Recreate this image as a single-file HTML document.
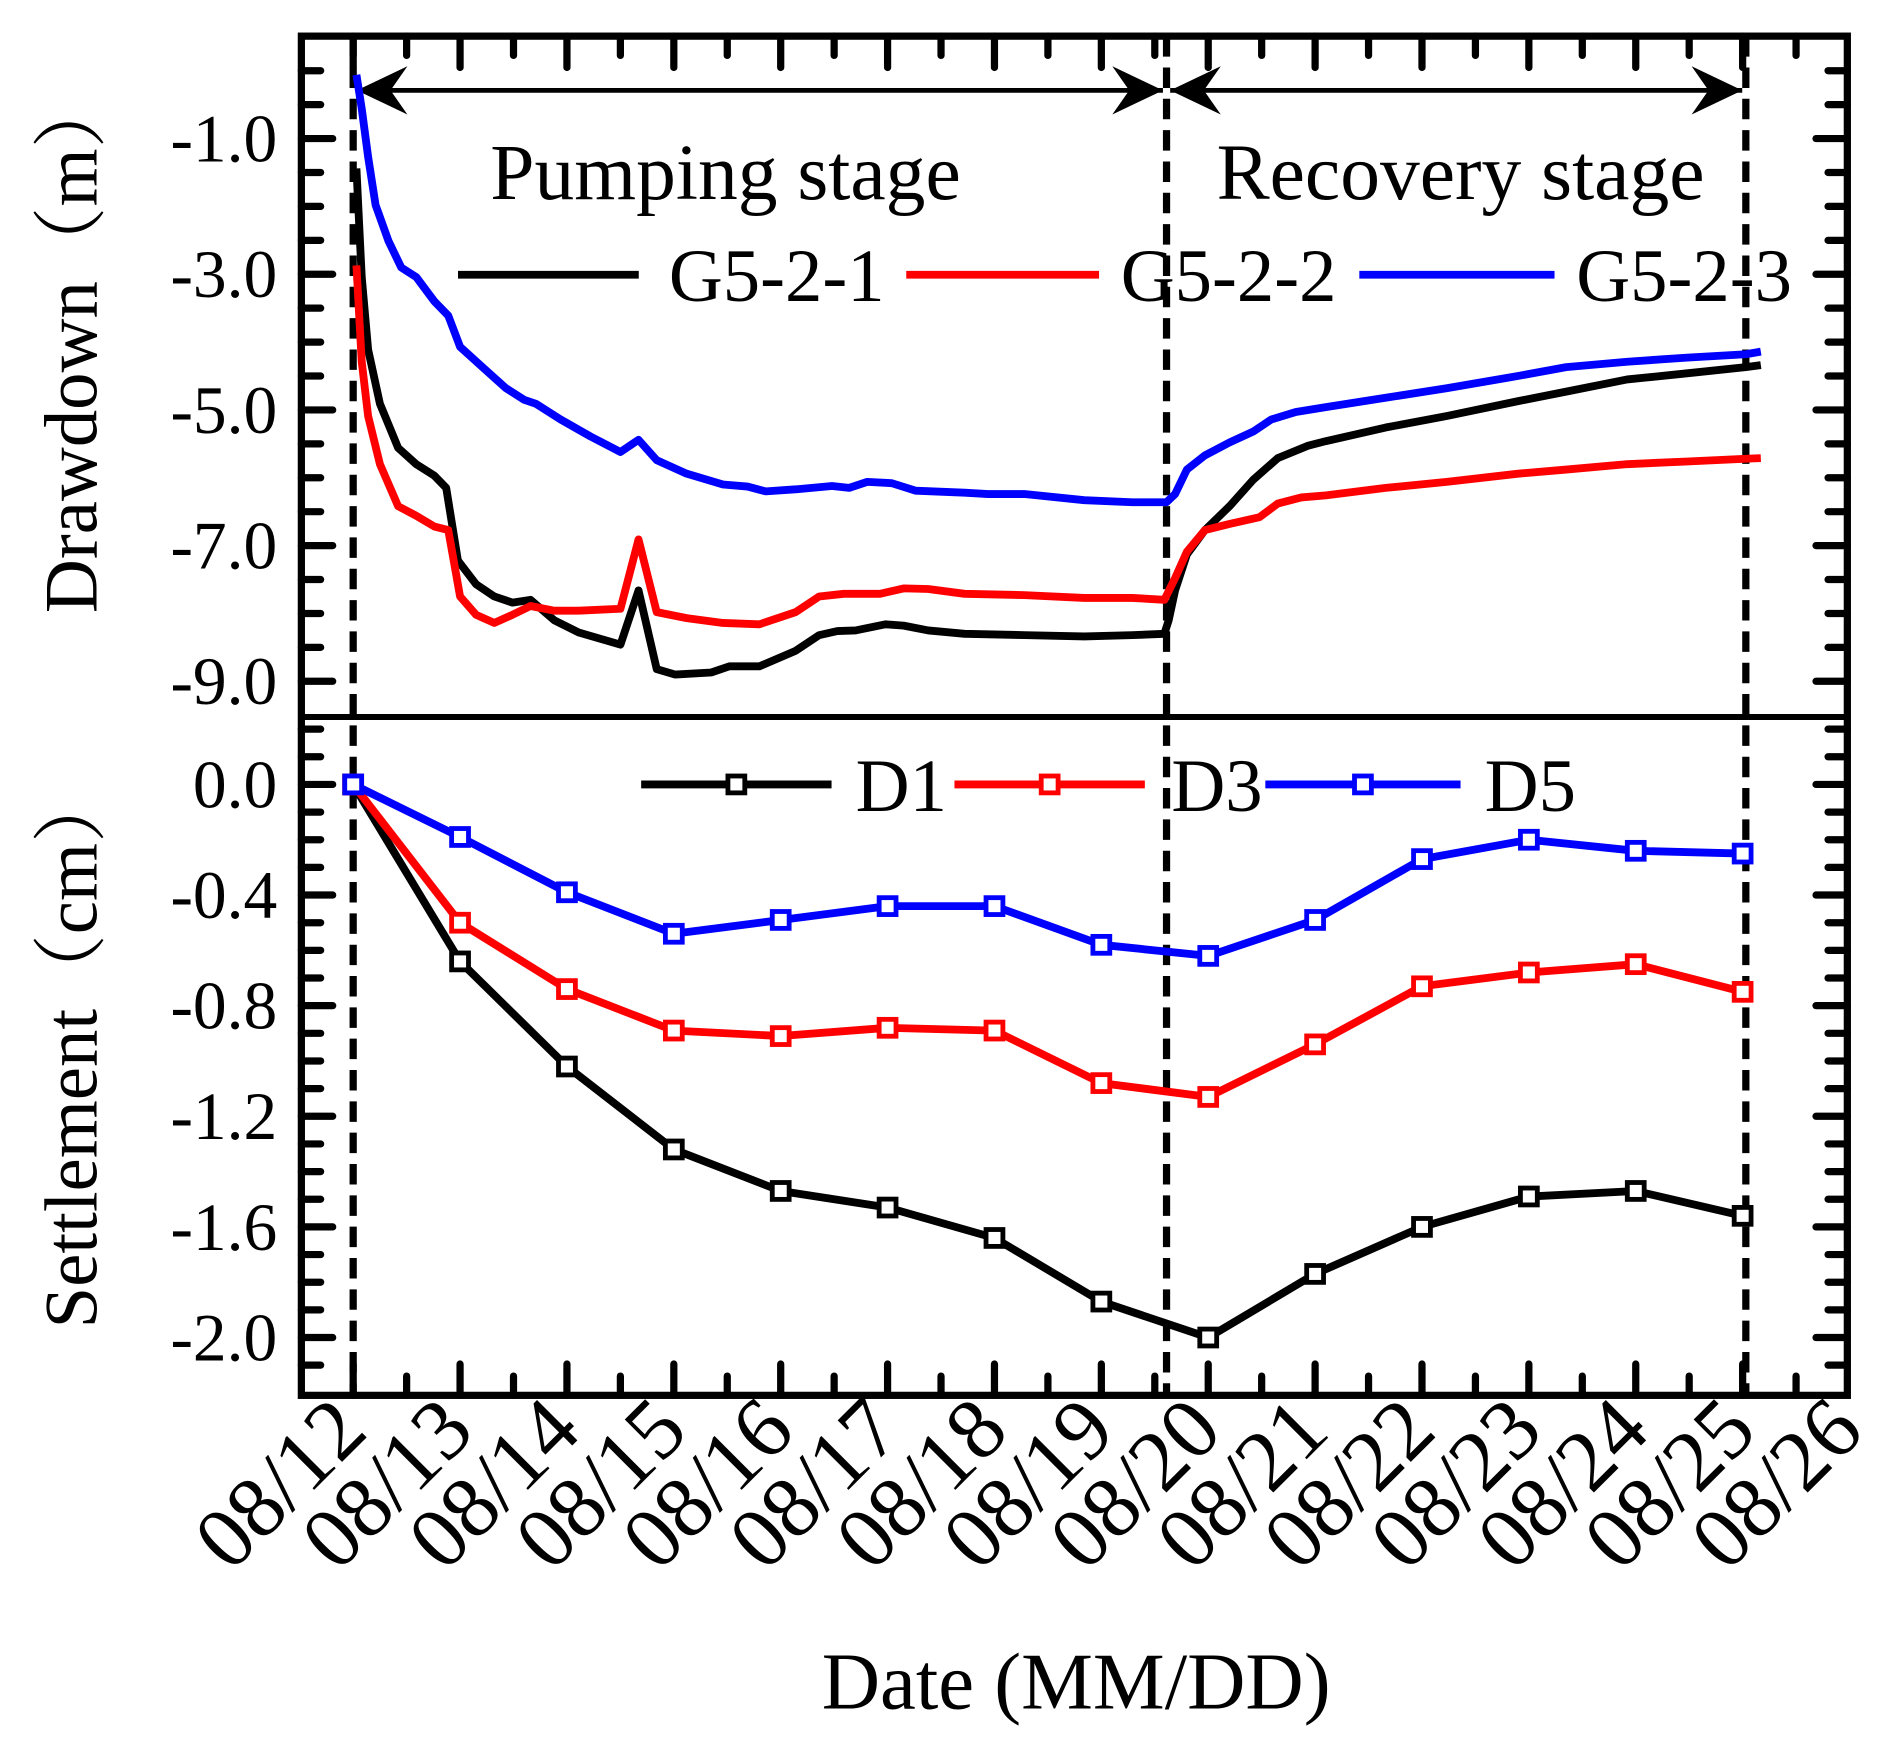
<!DOCTYPE html>
<html><head><meta charset="utf-8"><style>
html,body{margin:0;padding:0;background:#fff;}
svg{display:block;font-family:"Liberation Serif","Noto Serif CJK SC",serif;}
</style></head><body>
<svg id="chart" width="1880" height="1746" viewBox="0 0 1560 1449" xmlns="http://www.w3.org/2000/svg">
<rect x="0" y="0" width="1560" height="1449" fill="#fff"/>
<g id="marks"></g>
</svg>
<script>
const g1Days=[12.03,12.08,12.14,12.25,12.42,12.59,12.76,12.87,12.98,13.15,13.32,13.49,13.66,13.88,14.11,14.50,14.67,14.84,15.01,15.35,15.52,15.80,16.14,16.36,16.53,16.70,16.98,17.15,17.38,17.72,18.28,18.84,19.29,19.59,19.63,19.69,19.80,19.97,20.20,20.42,20.65,20.93,21.10,21.66,22.23,22.90,23.35,23.92,24.48,25.03,25.17];
const g1Vals=[-1.44,-3.04,-4.11,-4.91,-5.56,-5.80,-5.97,-6.15,-7.22,-7.57,-7.75,-7.84,-7.80,-8.10,-8.28,-8.46,-7.66,-8.82,-8.90,-8.87,-8.78,-8.78,-8.55,-8.32,-8.26,-8.25,-8.16,-8.18,-8.25,-8.30,-8.32,-8.34,-8.32,-8.30,-8.10,-7.66,-7.13,-6.77,-6.42,-6.03,-5.71,-5.53,-5.46,-5.26,-5.09,-4.87,-4.73,-4.55,-4.46,-4.37,-4.34];
const g2Days=[12.03,12.08,12.14,12.25,12.42,12.59,12.76,12.89,13.00,13.15,13.32,13.49,13.66,13.88,14.11,14.50,14.67,14.84,15.12,15.46,15.80,16.14,16.36,16.59,16.93,17.15,17.38,17.72,18.28,18.84,19.29,19.59,19.69,19.80,19.97,20.20,20.48,20.65,20.87,21.10,21.66,22.23,22.90,23.35,23.92,24.48,25.03,25.17];
const g2Vals=[-2.87,-4.29,-5.09,-5.80,-6.42,-6.56,-6.72,-6.77,-7.75,-8.02,-8.14,-8.02,-7.89,-7.96,-7.96,-7.93,-6.91,-7.98,-8.07,-8.14,-8.16,-7.98,-7.75,-7.71,-7.71,-7.63,-7.64,-7.71,-7.73,-7.77,-7.77,-7.80,-7.48,-7.09,-6.77,-6.68,-6.58,-6.38,-6.29,-6.26,-6.15,-6.06,-5.94,-5.88,-5.80,-5.76,-5.72,-5.71];
const g3Days=[12.03,12.08,12.14,12.21,12.33,12.45,12.59,12.76,12.89,13.00,13.21,13.43,13.60,13.71,13.94,14.22,14.50,14.67,14.84,15.12,15.46,15.69,15.86,16.14,16.48,16.64,16.81,17.04,17.26,17.72,17.94,18.28,18.84,19.29,19.61,19.69,19.80,19.97,20.20,20.42,20.59,20.82,21.10,21.66,22.23,22.90,23.35,23.92,24.48,25.03,25.17];
const g3Vals=[-0.06,-0.56,-1.27,-1.98,-2.51,-2.90,-3.04,-3.40,-3.61,-4.07,-4.37,-4.68,-4.85,-4.91,-5.14,-5.39,-5.62,-5.44,-5.74,-5.94,-6.10,-6.13,-6.20,-6.17,-6.12,-6.15,-6.06,-6.08,-6.19,-6.22,-6.24,-6.24,-6.33,-6.36,-6.36,-6.24,-5.88,-5.67,-5.48,-5.32,-5.14,-5.03,-4.96,-4.82,-4.68,-4.50,-4.37,-4.29,-4.23,-4.18,-4.14];
const setDays=[12,13,14,15,16,17,18,19,20,21,22,23,24,25];
const d1Vals=[0,-0.64,-1.02,-1.32,-1.47,-1.53,-1.64,-1.87,-2.00,-1.77,-1.60,-1.49,-1.47,-1.56];
const d3Vals=[0,-0.50,-0.74,-0.89,-0.91,-0.88,-0.89,-1.08,-1.13,-0.94,-0.73,-0.68,-0.65,-0.75];
const d5Vals=[0,-0.19,-0.39,-0.54,-0.49,-0.44,-0.44,-0.58,-0.62,-0.49,-0.27,-0.20,-0.24,-0.25];
const ddTicks=[-1.0,-3.0,-5.0,-7.0,-9.0];
const stTicks=[0.0,-0.4,-0.8,-1.2,-1.6,-2.0];
const dateLabels=["08/12","08/13","08/14","08/15","08/16","08/17","08/18","08/19","08/20","08/21","08/22","08/23","08/24","08/25","08/26"];
const stageBounds=[12,19.61,25.03];

const NS="http://www.w3.org/2000/svg";
const L=250,R=1533,T=30,MID=595,B=1158;
const X=d=>293+(d-12)*88.7;
const Yd=v=>115+(-1-v)*56.3;
const Ys=v=>651-v*229.5;
const root=document.getElementById('marks');
function mk(tag,attrs,parent){const e=document.createElementNS(NS,tag);for(const k in attrs)e.setAttribute(k,attrs[k]);(parent||root).appendChild(e);return e;}
function fmt(v){return v.toFixed(1);}

// ticks
const tk=mk('g',{stroke:'#000','stroke-width':6,'stroke-linecap':'round'});


for(let v=0.5;v>=-9.5;v-=0.5){const y=Yd(v);if(y<=T+3||y>=MID-3)continue;const major=Math.abs((v+1)%2)<0.01;const len=major?26:16;
mk('line',{x1:L,y1:y,x2:L+len,y2:y},tk);mk('line',{x1:R,y1:y,x2:R-len,y2:y},tk);}
for(let i=2;i>=-22;i--){const v=i/10;const y=Ys(v);if(y<=MID+3||y>=B-3)continue;const major=(i%4===0);const len=major?26:16;
mk('line',{x1:L,y1:y,x2:L+len,y2:y},tk);mk('line',{x1:R,y1:y,x2:R-len,y2:y},tk);}
for(let d=11.5;d<=26;d+=0.5){const x=X(d);if(x<=L+3||x>=R-3)continue;const major=Number.isInteger(d);const len=major?26:16;
mk('line',{x1:x,y1:B,x2:x,y2:B-len},tk);mk('line',{x1:x,y1:T,x2:x,y2:T+len},tk);}

// frame
let f=mk('rect',{x:L,y:T,width:R-L,height:B-T,fill:'none',stroke:'#000','stroke-width':6});


let dv=mk('line',{x1:L,y1:MID,x2:R,y2:MID,stroke:'#000','stroke-width':5});



// y tick labels
ddTicks.forEach(v=>{const t=mk('text',{x:230,y:Yd(v)+19,'text-anchor':'end','font-size':56});t.textContent=fmt(v);

});
stTicks.forEach(v=>{const t=mk('text',{x:230,y:Ys(v)+19,'text-anchor':'end','font-size':56});t.textContent=fmt(v);

});
// x labels
dateLabels.forEach((s,i)=>{const x=X(12+i)+14,y=1190;const t=mk('text',{x:x,y:y,'text-anchor':'end','font-size':72,transform:`rotate(-45 ${x} ${y})`});t.textContent=s;

});

// titles
let t1=mk('text',{x:80,y:285,'text-anchor':'middle','font-size':62,transform:'rotate(-90 80 285)'});t1.textContent='Drawdown（m）';


let t2=mk('text',{x:80,y:870,'text-anchor':'middle','font-size':62,transform:'rotate(-90 80 870)'});t2.textContent='Settlement（cm）';


let t3=mk('text',{x:893,y:1418,'text-anchor':'middle','font-size':67});t3.textContent='Date (MM/DD)';



// stage dashed lines
stageBounds.forEach(d=>{const l=mk('line',{x1:X(d),y1:T,x2:X(d),y2:B,stroke:'#000','stroke-width':6,'stroke-dasharray':'17 9'});

});
function arrow(x1,x2,name){const g=mk('g',{});


mk('line',{x1:x1,y1:75,x2:x2,y2:75,stroke:'#000','stroke-width':4},g);
mk('path',{d:`M${x1} 75 L${x1+42} 55 L${x1+28} 75 L${x1+42} 95 Z`,fill:'#000'},g);
mk('path',{d:`M${x2} 75 L${x2-42} 55 L${x2-28} 75 L${x2-42} 95 Z`,fill:'#000'},g);}
arrow(X(stageBounds[0])+3,X(stageBounds[1])-3,'pumping-stage-arrow');
arrow(X(stageBounds[1])+3,X(stageBounds[2])-3,'recovery-stage-arrow');
let s1=mk('text',{x:602,y:165,'text-anchor':'middle','font-size':66});s1.textContent='Pumping stage';


let s2=mk('text',{x:1212,y:165,'text-anchor':'middle','font-size':66});s2.textContent='Recovery stage';



// series
function line(days,vals,Y,color,name){const p=days.map((d,i)=>X(d).toFixed(1)+','+Y(vals[i]).toFixed(1)).join(' ');
const e=mk('polyline',{points:p,fill:'none',stroke:color,'stroke-width':6.5,'stroke-linejoin':'round'});

}
line(g1Days,g1Vals,Yd,'#000','series-g5-2-1');
line(g2Days,g2Vals,Yd,'#f00','series-g5-2-2');
line(g3Days,g3Vals,Yd,'#00f','series-g5-2-3');
function sline(vals,color,name){line(setDays,vals,Ys,color,name);
setDays.forEach((d,i)=>{const m=mk('rect',{x:X(d)-7,y:Ys(vals[i])-7,width:14,height:14,fill:'#fff',stroke:color,'stroke-width':4});

});}
sline(d1Vals,'#000','series-d1');
sline(d3Vals,'#f00','series-d3');
sline(d5Vals,'#00f','series-d5');

// legends
function leg(x1,x2,y,color,label,tx,marker,name){const g=mk('g',{});


mk('line',{x1:x1,y1:y,x2:x2,y2:y,stroke:color,'stroke-width':6.5},g);
if(marker)mk('rect',{x:(x1+x2)/2-7,y:y-7,width:14,height:14,fill:'#fff',stroke:color,'stroke-width':4},g);
const t=mk('text',{x:tx,y:y+22,'font-size':62},g);t.textContent=label;}
leg(380,530,228,'#000','G5-2-1',555,false,'legend-g5-2-1');
leg(752,912,228,'#f00','G5-2-2',930,false,'legend-g5-2-2');
leg(1128,1290,228,'#00f','G5-2-3',1308,false,'legend-g5-2-3');
leg(532,690,651,'#000','D1',710,true,'legend-d1');
leg(792,950,651,'#f00','D3',972,true,'legend-d3');
leg(1050,1212,651,'#00f','D5',1232,true,'legend-d5');
</script>
</body></html>
